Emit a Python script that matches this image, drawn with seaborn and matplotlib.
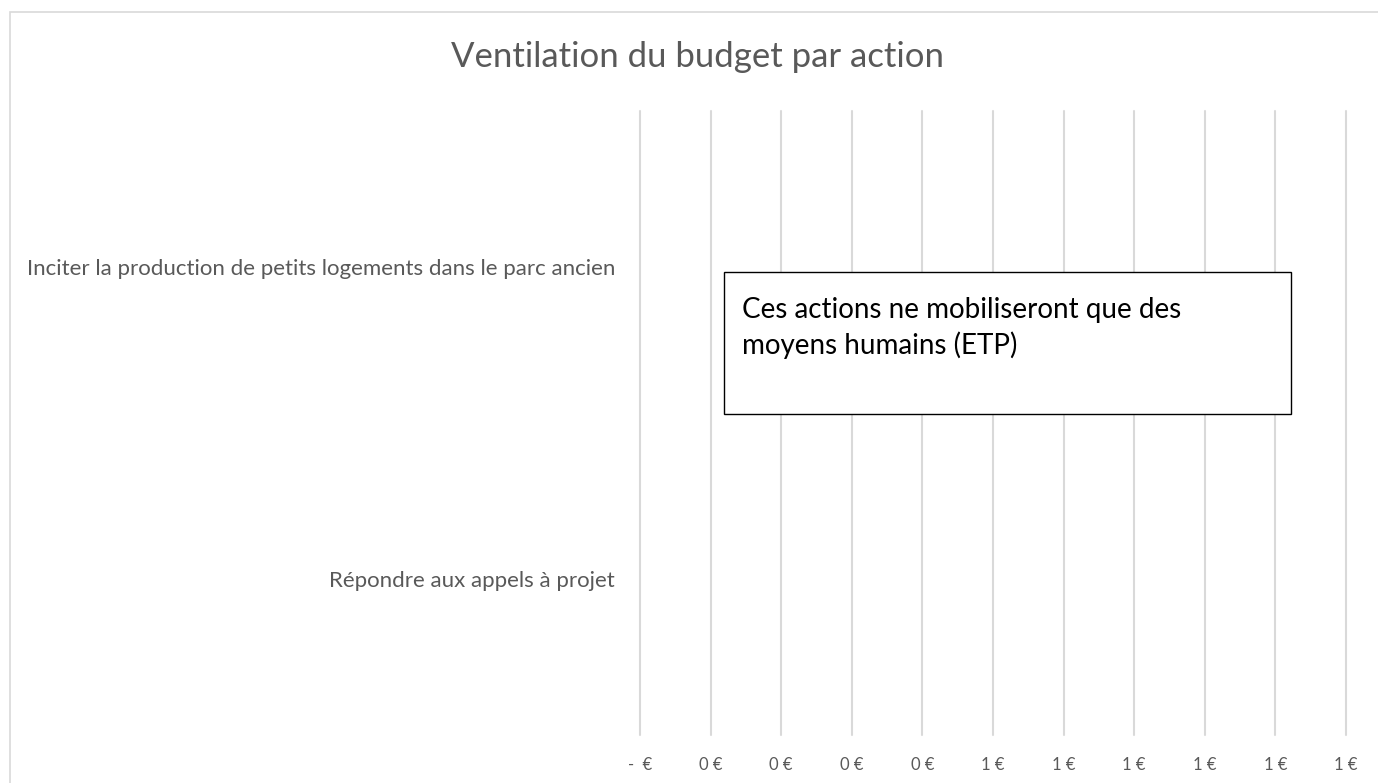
import numpy as np
import pandas as pd
import seaborn as sns
import matplotlib.pyplot as plt
from matplotlib.patches import Rectangle
from matplotlib.ticker import FixedLocator, FixedFormatter

# donnees du graphique (aucun budget, seulement des ETP)
actions = ['Inciter la production de petits logements dans le parc ancien',
           'Répondre aux appels à projet']
budget = [0, 0]
ticks = [0.0, 0.1, 0.2, 0.3, 0.4, 0.5, 0.6, 0.7, 0.8, 0.9, 1.0]
tick_labels = ['-  €', '0 €', '0 €', '0 €', '0 €', '1 €', '1 €', '1 €', '1 €', '1 €', '1 €']

df = pd.DataFrame({'Action': actions, 'Budget': budget})

sns.set_theme(style='white')
plt.rcParams['font.family'] = ['Lato', 'DejaVu Sans']

gris = '#595959'
grille = '#d9d9d9'

fig = plt.figure(figsize=(13.78, 7.83), dpi=100)
ax = fig.add_axes([640 / 1378, 1 - 735 / 783, 706 / 1378, 624 / 783])

sns.barplot(data=df, x='Budget', y='Action', orient='h', color='#4472c4',
            linewidth=0, ax=ax)

ax.set_xlim(0, 1)
ax.xaxis.set_major_locator(FixedLocator(ticks))
ax.xaxis.set_major_formatter(FixedFormatter(tick_labels))
ax.grid(axis='x', color=grille, linewidth=1.5)
ax.set_axisbelow(True)
for g in ax.get_xgridlines():
    g.set_clip_on(False)
for s in ax.spines.values():
    s.set_visible(False)
ax.tick_params(axis='x', length=0, pad=16, labelsize=12, labelcolor=gris)
ax.tick_params(axis='y', length=0, pad=18, labelsize=16, labelcolor=gris)
ax.set_xlabel('')
ax.set_ylabel('')

fig.text(698 / 1378, 1 - 57 / 783, 'Ventilation du budget par action',
         ha='center', va='center', fontsize=25, color=gris)

# cadre exterieur du graphique
fig.patches.append(Rectangle((10 / 1378, -0.05), 1.1, 1 - 12 / 783 + 0.05,
                             transform=fig.transFigure, fill=False,
                             edgecolor=grille, linewidth=1.2))

# zone de texte
fig.patches.append(Rectangle((724 / 1378, 1 - 414 / 783), 567 / 1378, 142 / 783,
                             transform=fig.transFigure, facecolor='white',
                             edgecolor='black', linewidth=1, zorder=5))
fig.text(742 / 1378, 1 - 310 / 783, 'Ces actions ne mobiliseront que des',
         ha='left', va='center', fontsize=20, color='black', zorder=6)
fig.text(742 / 1378, 1 - 345 / 783, 'moyens humains (ETP)',
         ha='left', va='center', fontsize=20, color='black', zorder=6)

plt.savefig('out.png', dpi=100)
